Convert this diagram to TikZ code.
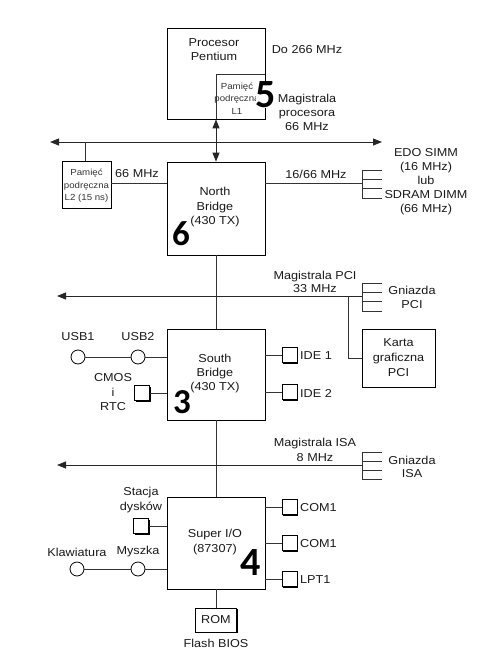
\documentclass[tikz,border=0pt]{standalone}
\usepackage{fontspec}
\setmainfont{Liberation Sans}[FakeStretch=1.1]
\newfontfamily\numfont{Carlito}
\usetikzlibrary{arrows.meta,shadows}
\begin{document}
\begin{tikzpicture}[x=1pt,y=-1pt,
  every node/.style={font=\fontsize{11.5}{14}\selectfont, align=center, inner sep=0pt},
  shbox/.style={draw=black, line width=0.8pt, fill=white,
    general shadow={fill=black, shadow xshift=1.1pt, shadow yshift=-1.1pt}},
  sq/.style={shbox, minimum width=15pt, minimum height=15pt},
  port/.style={draw=black, line width=0.8pt, fill=white, circle, minimum size=14pt},
  wire/.style={draw=black!80, line width=0.8pt},
  bus/.style={draw=black!85, line width=0.9pt},
  tip/.style={-{Triangle[length=9pt,width=7pt]}},
  big/.style={font=\numfont\bfseries\fontsize{40}{40}\selectfont, fill=white},
  small/.style={font=\fontsize{8.8}{12.5}\selectfont, text=black!80},
  lbl/.style={text=black!90}
]
\useasboundingbox (0,0) rectangle (492,659);

% main boxes
\node[shbox, minimum width=98pt, minimum height=91pt] (cpu) at (216,73.5) {};
\node[lbl] (cputxt) at (214,50) {Procesor\\Pentium};
\node[shbox, minimum width=98pt, minimum height=93pt] (nb) at (216,208.5) {};
\node[lbl, font=\fontsize{11.5}{14.5}\selectfont] (nbtxt) at (215,207.5) {North\\Bridge\\(430 TX)};
\node[shbox, minimum width=98pt, minimum height=91pt] (sb) at (216,374.5) {};
\node[lbl] (sbtxt) at (215,373.5) {South\\Bridge\\(430 TX)};
\node[shbox, minimum width=98pt, minimum height=92pt] (sio) at (216,543) {};
\node[lbl, font=\fontsize{11.5}{15}\selectfont] (siotxt) at (215,542.5) {Super I/O\\(87307)};
\node[shbox, minimum width=49pt, minimum height=47pt] (l2) at (86.5,184.5) {};
\node[small] (l2txt) at (86.5,186) {Pamięć\\podręczna\\L2 (15 ns)};
\node[shbox, minimum width=73pt, minimum height=58pt] (karta) at (398.5,358) {};
\node[lbl, font=\fontsize{11.5}{15}\selectfont] (kartatxt) at (398.5,358) {Karta\\graficzna\\PCI};
\node[shbox, minimum width=41pt, minimum height=24pt, lbl] (rom) at (216,620) {ROM};
\node[lbl] (flash) at (216,643) {Flash BIOS};

% L1 corner inside the processor
\coordinate (l1c) at (265,74);
\draw[wire] (cpu.south) |- (cpu.east |- l1c);
\node[small] (l1txt) at (237,98.5) {Pamięć\\podręczna\\L1};
\node[big] (n5) at (266,95) {5};

% texts near processor
\node[lbl] (do266) at (307,50) {Do 266 MHz};
\node[lbl] (magproc) at (307,112) {Magistrala\\procesora\\66 MHz};

% processor bus
\coordinate (busL) at (50,142);
\coordinate (busR) at (382,142);
\draw[bus, {Triangle[length=9pt,width=7pt]}-{Triangle[length=9pt,width=7pt]}] (busL) -- (busR);
\draw[bus, {Triangle[length=9pt,width=7pt]}-{Triangle[length=9pt,width=7pt]}] (cpu.south) -- (nb.north);
\draw[wire] (l2.north -| 85,0) -- (busL -| 85,0);

% L2 to NB
\coordinate (y183) at (0,183);
\draw[wire] (l2.east |- y183) -- (nb.west |- y183);
\node[lbl] (l2mhz) at (137,174) {66 MHz};
\node[big, font=\numfont\bfseries\fontsize{35}{35}\selectfont, fill=none] (n6) at (181,234) {6};

% memory comb
\coordinate (memc) at (362,183);
\draw[wire] (nb.east |- memc) -- (memc);
\draw[wire] (362,170) -- (362,198);
\foreach \yy in {170,179.3,188.7,198} \draw[wire] (362,\yy) -- (382,\yy);
\node[lbl] (m1666) at (316,174) {16/66 MHz};
\node[lbl] (simm) at (426,182) {EDO SIMM\\(16 MHz)\\lub\\SDRAM DIMM\\(66 MHz)};

% NB to SB
\draw[wire] (nb.south) -- (sb.north);

% PCI bus
\coordinate (pciR) at (362,296);
\coordinate (pciL) at (57,296);
\draw[bus, tip] (pciR) -- (pciL);
\draw[wire] (362,283) -- (362,311);
\foreach \yy in {283,292.3,301.7,311} \draw[wire] (362,\yy) -- (382,\yy);
\node[lbl, font=\fontsize{11.5}{13}\selectfont] (pcilbl) at (315,281.5) {Magistrala PCI\\33 MHz};
\node[lbl] (gpci) at (412,297) {Gniazda\\PCI};
\coordinate (pcibr) at (348,296);
\draw[wire] (pcibr) |- (karta.west);

% South bridge peripherals
\node[sq] (ide1) at (289.5,355) {};
\node[sq] (ide2) at (289.5,392) {};
\draw[wire] (sb.east |- ide1.west) -- (ide1.west);
\draw[wire] (sb.east |- ide2.west) -- (ide2.west);
\node[lbl, anchor=west] (ide1t) at (300,356) {IDE 1};
\node[lbl, anchor=west] (ide2t) at (300,393) {IDE 2};

\node[port] (usb1) at (78,357) {};
\node[port] (usb2) at (138,357) {};
\draw[wire] (usb1.east) -- (usb2.west);
\draw[wire] (usb2.east) -- (sb.west |- usb2.east);
\node[lbl] (usb1t) at (78,337) {USB1};
\node[lbl] (usb2t) at (138,337) {USB2};

\node[sq] (cmos) at (142,393) {};
\draw[wire] (cmos.east) -- (sb.west |- cmos.east);
\node[lbl, font=\fontsize{11.5}{14.5}\selectfont] (cmost) at (113,392.5) {CMOS\\i\\RTC};
\node[big, font=\numfont\bfseries\fontsize{35}{35}\selectfont, fill=none] (n3) at (182,402) {3};

% SB to SIO
\draw[wire] (sb.south) -- (sio.north);

% ISA bus
\coordinate (isaR) at (362,465);
\coordinate (isaL) at (57,465);
\draw[bus, tip] (isaR) -- (isaL);
\draw[wire] (362,452) -- (362,479);
\foreach \yy in {452,461,470,479} \draw[wire] (362,\yy) -- (382,\yy);
\node[lbl, font=\fontsize{11.5}{15}\selectfont] (isalbl) at (315,450) {Magistrala ISA\\8 MHz};
\node[lbl, font=\fontsize{11.5}{13}\selectfont] (gisa) at (412,466.5) {Gniazda\\ISA};

% Super I/O peripherals
\node[sq] (fdd) at (141,526) {};
\draw[wire] (fdd.east) -- (sio.west |- fdd.east);
\node[lbl, font=\fontsize{11.5}{15}\selectfont] (fddt) at (141,500.5) {Stacja\\dysków};

\node[port] (kbd) at (77,569) {};
\node[port] (mouse) at (138,569) {};
\draw[wire] (kbd.east) -- (mouse.west);
\draw[wire] (mouse.east) -- (sio.west |- mouse.east);
\node[lbl] (kbdt) at (77,552) {Klawiatura};
\node[lbl] (mouset) at (138,552) {Myszka};

\node[sq] (com1) at (289.5,507) {};
\node[sq] (com2) at (289.5,543) {};
\node[sq] (lpt) at (289.5,579) {};
\draw[wire] (sio.east |- com1.west) -- (com1.west);
\draw[wire] (sio.east |- com2.west) -- (com2.west);
\draw[wire] (sio.east |- lpt.west) -- (lpt.west);
\node[lbl, anchor=west] (com1t) at (300,508) {COM1};
\node[lbl, anchor=west] (com2t) at (300,544) {COM1};
\node[lbl, anchor=west] (lptt) at (300,580) {LPT1};
\node[big, fill=none] (n4) at (251,563) {4};

\draw[wire] (sio.south) -- (rom.north);
\end{tikzpicture}
\end{document}
